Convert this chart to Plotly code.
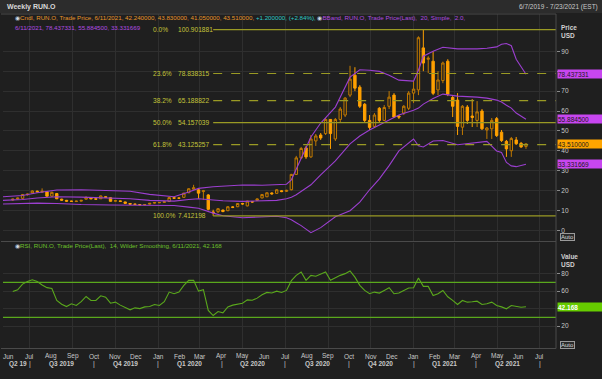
import plotly.graph_objects as go
import pandas as pd

# ---------------- data ----------------
n_weeks = 106
dates = pd.date_range("2019-06-07", periods=n_weeks, freq="7D")

opens = [15.4, 15.9, 16.2, 18.0, 18.9, 19.8, 19.3, 19.5, 17.3, 18.6,
         15.8, 15.2, 14.8, 14.6, 14.8, 15.8, 16.5, 16.0, 16.0, 17.0,
         16.5, 14.8, 14.9, 14.4, 13.6, 13.3, 13.1, 13.0, 13.3, 13.8,
         14.0, 14.2, 14.6, 16.5, 16.3, 16.7, 19.0, 20.8, 20.5, 19.6,
         17.9, 9.4, 9.5, 10.3, 10.0, 11.9, 12.0, 13.6, 12.4, 14.5,
         15.2, 16.4, 17.0, 18.9, 18.7, 20.0, 19.7, 20.5, 28.2, 36.5,
         41.5, 37.0, 45.0, 48.0, 48.7, 55.8, 46.0, 55.8, 58.0, 68.0,
         78.0, 72.0, 63.4, 55.3, 52.3, 61.4, 55.3, 62.4, 68.0, 57.5,
         59.0, 61.4, 69.0, 70.6, 91.7, 86.0, 85.0, 70.6, 75.3, 85.0,
         66.8, 65.5, 51.9, 62.0, 57.5, 55.3, 60.0, 50.5, 51.1, 56.2,
         49.4, 44.8, 40.1, 45.5, 43.8, 42.24]
highs = [16.0, 16.6, 18.4, 18.6, 20.2, 20.1, 21.2, 19.8, 19.6, 18.9,
         16.0, 15.4, 15.0, 15.0, 15.4, 17.2, 16.8, 16.2, 17.6, 17.2,
         16.7, 15.3, 15.0, 14.5, 13.8, 13.5, 13.3, 13.3, 13.9, 14.3,
         14.3, 14.7, 16.9, 16.7, 16.6, 19.0, 21.3, 23.0, 21.0, 20.4,
         18.3, 10.5, 11.3, 10.6, 12.3, 12.2, 13.8, 13.9, 15.0, 14.8,
         16.2, 18.3, 19.2, 19.2, 20.8, 20.3, 20.5, 28.5, 37.5, 42.0,
         42.5, 48.0, 48.5, 49.0, 56.5, 56.0, 56.5, 62.0, 67.0, 82.7,
         82.0, 73.0, 64.0, 58.0, 59.0, 62.0, 63.0, 70.0, 69.0, 58.0,
         63.0, 70.0, 75.0, 97.5, 100.9, 87.5, 90.0, 80.0, 84.8, 86.0,
         67.5, 69.0, 63.0, 63.0, 66.0, 65.0, 61.0, 52.0, 56.5, 57.0,
         50.5, 45.5, 47.0, 47.0, 44.5, 43.83]
lows = [15.0, 15.6, 16.0, 17.6, 18.7, 19.2, 19.0, 17.0, 17.0, 15.8,
        15.0, 14.5, 14.4, 14.4, 14.6, 15.6, 15.8, 15.5, 15.9, 16.5,
        14.6, 14.6, 14.5, 13.5, 13.1, 13.0, 12.8, 12.7, 13.1, 13.6,
        13.8, 14.0, 14.5, 16.0, 15.9, 16.5, 18.8, 20.6, 16.0, 15.5,
        10.2, 7.41, 8.8, 9.2, 9.8, 11.3, 11.8, 13.0, 12.2, 14.0,
        15.0, 16.2, 16.8, 18.0, 18.5, 19.3, 19.4, 20.2, 28.0, 36.0,
        36.0, 36.5, 42.5, 45.5, 48.0, 41.0, 45.0, 54.5, 57.0, 67.0,
        70.0, 61.5, 54.5, 50.5, 51.5, 54.5, 55.0, 61.0, 56.5, 56.0,
        58.0, 60.5, 64.0, 68.0, 80.0, 79.0, 68.0, 68.0, 74.0, 67.5,
        57.0, 48.0, 48.0, 53.5, 52.0, 52.0, 50.5, 46.0, 46.0, 47.0,
        44.5, 37.0, 37.0, 43.0, 41.5, 41.05]
closes = [15.8, 16.3, 18.1, 18.3, 19.9, 19.5, 19.7, 17.3, 19.2, 16.0,
          15.3, 14.8, 14.7, 14.8, 15.2, 16.7, 16.0, 15.8, 17.4, 16.7,
          14.7, 15.0, 14.7, 13.7, 13.3, 13.2, 13.0, 13.1, 13.7, 14.1,
          14.1, 14.5, 16.6, 16.3, 16.3, 18.8, 21.0, 21.5, 18.8, 20.0,
          10.7, 9.0, 11.0, 9.6, 12.0, 11.7, 13.6, 13.4, 14.8, 14.4,
          15.9, 18.1, 19.0, 18.5, 20.5, 19.6, 20.2, 28.2, 36.5, 41.2,
          37.0, 46.0, 47.5, 46.5, 55.8, 48.7, 55.8, 61.0, 66.5, 76.0,
          71.5, 62.4, 55.3, 51.8, 58.0, 55.3, 61.8, 67.0, 57.0, 57.0,
          62.4, 69.0, 71.0, 96.8, 84.1, 86.5, 68.9, 75.6, 84.1, 68.5,
          62.4, 52.3, 62.4, 55.3, 56.8, 59.6, 51.1, 51.5, 55.3, 47.7,
          45.2, 41.0, 46.2, 43.6, 42.0, 43.51]

rsi = [59.5, 61.5, 68, 71, 73, 71, 67, 64, 63, 49.3,
       45, 42.4, 45.5, 43.6, 48, 53.9, 49.3, 49.3, 54.7, 53.1,
       46.2, 47.4, 44, 41, 38.6, 40.9, 40, 42, 42.4, 44.7,
       43.6, 48, 58.9, 57, 58.9, 66.6, 72.3, 72.3, 60, 61.6,
       38, 32.1, 36.7, 35.2, 42, 44, 45.5, 46.2, 50, 49.5,
       52, 55.8, 58.5, 57.8, 60, 58.5, 60.8, 72, 78, 81.9,
       72.3, 78, 77, 79, 81.9, 72.3, 75.5, 78, 80, 83,
       76, 66.6, 60.8, 57, 58.9, 57.8, 60.8, 63.9, 57, 57.8,
       60.8, 63.5, 63.9, 75, 65.4, 65.4, 55, 57, 60.8, 53.5,
       49.5, 44.7, 49.3, 47.4, 47.8, 48.5, 44.7, 45.5, 47.4, 43.6,
       42, 39.8, 43.6, 42.4, 41.5, 42.168]

bb_weeks = [-2, 2, 5, 9, 14, 20, 24, 28, 33, 36,
            38, 41, 43, 47, 51, 54, 56, 57, 58, 59,
            61, 63, 66, 69, 71, 73, 75, 77, 79, 82,
            83, 84, 86, 88, 91, 95, 97, 99, 100, 101,
            102, 103, 104, 105]
bb_upper = [17.0, 17.6, 19.0, 20.4, 20.5, 20.3, 19.8, 18.2, 17.0, 19.4,
            21.2, 22.0, 22.3, 22.9, 22.8, 23.0, 23.3, 25.5, 31.0, 36.7,
            47.0, 54.0, 62.0, 77.0, 80.7, 80.5, 79.9, 78.0, 75.5, 75.0,
            80.5, 87.5, 90.0, 92.0, 91.2, 91.2, 91.5, 92.2, 93.5, 93.9,
            92.8, 86.0, 82.0, 78.437331]
bb_mid = [15.2, 15.6, 16.4, 17.0, 16.8, 16.5, 16.0, 15.2, 14.8, 15.6,
          16.0, 15.4, 15.0, 14.7, 14.8, 15.2, 16.0, 16.8, 18.0, 19.8,
          23.0, 28.0, 35.0, 43.5, 47.5, 50.5, 53.0, 55.3, 58.0, 60.4,
          61.5, 63.5, 66.3, 68.5, 67.5, 67.0, 66.5, 65.5, 64.5, 62.9,
          61.5, 59.0, 57.5, 55.8845]
bb_lower = [13.4, 13.6, 13.8, 13.6, 13.1, 12.9, 12.8, 12.4, 12.6, 11.8,
            11.2, 8.8, 7.5, 6.5, 6.8, 7.2, 6.5, 5.5, 4.0, 2.5,
            -1.0, 1.5, 7.0, 10.0, 14.3, 20.5, 26.0, 32.6, 40.0, 46.0,
            42.6, 42.0, 45.0, 45.2, 43.1, 44.0, 44.8, 40.0, 39.2, 34.2,
            32.5, 32.1, 32.8, 33.331669]

fib_pct = ["0.0%", "23.6%", "38.2%", "50.0%", "61.8%", "100.0%"]
fib_vals = [100.901881, 78.838315, 65.188822, 54.157039, 43.125257, 7.412198]
fib_dash = ["solid", "dash", "dash", "solid", "dash", "solid"]
fib_start_week = 41

price_ticks = [0, 10, 20, 30, 40, 50, 60, 70, 80, 90]
price_ticktext = ["0", "10", "20", "30", "40", "50", "60", "70", "", "90"]
rsi_ticks = [20, 40, 60, 80]
rsi_ticktext = ["20", "", "60", "80"]
rsi_levels = [70, 30]

month_dates = ["2019-06-01", "2019-07-01", "2019-08-01", "2019-09-01", "2019-10-01",
               "2019-11-01", "2019-12-01", "2020-01-01", "2020-02-01", "2020-03-01",
               "2020-04-01", "2020-05-01", "2020-06-01", "2020-07-01", "2020-08-01",
               "2020-09-01", "2020-10-01", "2020-11-01", "2020-12-01", "2021-01-01",
               "2021-02-01", "2021-03-01", "2021-04-01", "2021-05-01", "2021-06-01",
               "2021-07-01"]
month_labels = ["Jun", "Jul", "Aug", "Sep", "Oct", "Nov", "Dec", "Jan", "Feb", "Mar",
                "Apr", "May", "Jun", "Jul", "Aug", "Sep", "Oct", "Nov", "Dec", "Jan",
                "Feb", "Mar", "Apr", "May", "Jun", "Jul"]
quarter_centers = ["2019-06-15", "2019-08-16", "2019-11-15", "2020-02-15", "2020-05-16",
                   "2020-08-16", "2020-11-15", "2021-02-14", "2021-05-16"]
quarter_labels = ["Q2 19", "Q3 2019", "Q4 2019", "Q1 2020", "Q2 2020",
                  "Q3 2020", "Q4 2020", "Q1 2021", "Q2 2021"]
quarter_bounds = ["2019-07-01", "2019-10-01", "2020-01-01", "2020-04-01", "2020-07-01",
                  "2020-10-01", "2021-01-01", "2021-04-01", "2021-07-01"]
grid_dates = ["2019-07-01", "2019-09-01", "2019-11-01", "2020-01-01", "2020-03-01",
              "2020-05-01", "2020-07-01", "2020-09-01", "2020-11-01", "2021-01-01",
              "2021-03-01", "2021-05-01", "2021-07-01"]
x_range = ["2019-05-24", "2021-07-24"]

# ---------------- layout helpers ----------------
W, H = 602, 379
LX, RX, TY, BY = 3, 556, 14, 348


def px_x(px):
    return (px - LX) / (RX - LX)


def px_y(py):
    return (BY - py) / (BY - TY)


TOP_DOM = [px_y(241), 1.0]
BOT_DOM = [0.0, px_y(243)]

BG = "#1f1f1f"
GRID = "#2f2f2f"
TXT = "#c8c8c8"
FONT = "Liberation Sans, Arial, sans-serif"
ORANGE = "#ffa000"
ORANGE_DK = "#c27a00"
PURPLE = "#9b3fcf"
FIB = "#9a9a24"
FIBTXT = "#c4c43a"
GREEN = "#5aa81c"

fig = go.Figure()

fig.add_trace(go.Candlestick(
    x=dates, open=opens, high=highs, low=lows, close=closes,
    increasing=dict(line=dict(color=ORANGE_DK, width=1), fillcolor=BG),
    decreasing=dict(line=dict(color=ORANGE, width=1), fillcolor=ORANGE),
    whiskerwidth=0, xaxis="x", yaxis="y", showlegend=False, hoverinfo="skip"))

bb_dates = [dates[0] + pd.Timedelta(weeks=w) for w in bb_weeks]
for arr in (bb_upper, bb_mid, bb_lower):
    fig.add_trace(go.Scatter(x=bb_dates, y=arr, mode="lines",
                             line=dict(color=PURPLE, width=1.1),
                             xaxis="x", yaxis="y", showlegend=False, hoverinfo="skip"))

fig.add_trace(go.Scatter(x=dates, y=rsi, mode="lines", line=dict(color=GREEN, width=1.1),
                         xaxis="x2", yaxis="y2", showlegend=False, hoverinfo="skip"))

shapes = []
annos = []
fib_x0 = dates[fib_start_week]
for pct, val, dash in zip(fib_pct, fib_vals, fib_dash):
    shapes.append(dict(type="line", xref="x", yref="y", x0=fib_x0, x1=x_range[1],
                       y0=val, y1=val, line=dict(color=FIB, width=1.2, dash=dash)))
    annos.append(dict(xref="paper", yref="y", x=px_x(151), y=val, xanchor="left",
                      yanchor="middle", text=pct, showarrow=False,
                      font=dict(size=6.6, color=FIBTXT, family=FONT)))
    annos.append(dict(xref="paper", yref="y", x=px_x(176), y=val, xanchor="left",
                      yanchor="middle", text="%.6f" % val, showarrow=False,
                      font=dict(size=6.6, color=FIBTXT, family=FONT)))

for lv in rsi_levels:
    shapes.append(dict(type="line", xref="paper", yref="y2", x0=0, x1=1, y0=lv, y1=lv,
                       line=dict(color=GREEN, width=1.1)))

# header bar and frame lines
shapes.append(dict(type="rect", xref="paper", yref="paper", x0=px_x(0), x1=px_x(W),
                   y0=px_y(13), y1=px_y(0), fillcolor="#2c2c2c", line=dict(width=0),
                   layer="below"))
for yy in (14, 241.5, 348.5):
    shapes.append(dict(type="line", xref="paper", yref="paper", x0=px_x(1), x1=px_x(RX),
                       y0=px_y(yy), y1=px_y(yy), line=dict(color="#4a4a4a", width=1)))
shapes.append(dict(type="line", xref="paper", yref="paper", x0=1, x1=1,
                   y0=px_y(348.5), y1=px_y(14), line=dict(color="#4a4a4a", width=1)))

# month / quarter labels
for d, lab in zip(month_dates, month_labels):
    annos.append(dict(xref="x2", yref="paper", x=d, y=0, yshift=-8, yanchor="middle",
                      text=lab, showarrow=False, font=dict(size=6.5, color=TXT, family=FONT)))
for d, lab in zip(quarter_centers, quarter_labels):
    annos.append(dict(xref="x2", yref="paper", x=d, y=0, yshift=-16, yanchor="middle",
                      text="<b>%s</b>" % lab, showarrow=False,
                      font=dict(size=6.5, color=TXT, family=FONT)))
for d in quarter_bounds:
    annos.append(dict(xref="x2", yref="paper", x=d, y=0, yshift=-16, yanchor="middle",
                      text="|", showarrow=False, font=dict(size=7, color=TXT, family=FONT)))

# headers
annos.append(dict(xref="paper", yref="paper", x=px_x(5), y=px_y(6.5), xanchor="left",
                  yanchor="middle", text="<b>Weekly RUN.O</b>", showarrow=False,
                  font=dict(size=7, color="#d8d8d8", family=FONT)))
annos.append(dict(xref="paper", yref="paper", x=px_x(600), y=px_y(6.5), xanchor="right",
                  yanchor="middle", text="6/7/2019 - 7/23/2021 (EST)", showarrow=False,
                  font=dict(size=6.5, color=TXT, family=FONT)))

legend1 = ('<span style="color:#e8962a">Cndl, RUN.O, Trade Price, 6/11/2021, 42.240000, '
           '43.830000, 41.050000, 43.510000, </span>'
           '<span style="color:#2ec8c8">+1.200000, (+2.84%), </span>'
           '<span style="color:#d0d8e0">◉</span>'
           '<span style="color:#b04be0">BBand, RUN.O, Trade Price(Last),  20, Simple,  2.0,</span>')
annos.append(dict(xref="paper", yref="paper", x=px_x(13), y=px_y(17.5), xanchor="left",
                  yanchor="middle", text='<span style="color:#d0d8e0">◉</span>' + legend1,
                  showarrow=False, font=dict(size=6.2, family=FONT)))
annos.append(dict(xref="paper", yref="paper", x=px_x(13), y=px_y(27), xanchor="left",
                  yanchor="middle", text="6/11/2021, 78.437331, 55.884500, 33.331669",
                  showarrow=False, font=dict(size=6.2, color="#b04be0", family=FONT)))
annos.append(dict(xref="paper", yref="paper", x=px_x(13), y=px_y(246), xanchor="left",
                  yanchor="middle",
                  text='<span style="color:#d0d8e0">◉</span>RSI, RUN.O, Trade Price(Last),  14, '
                       'Wilder Smoothing, 6/11/2021, 42.168',
                  showarrow=False, font=dict(size=6.2, color="#6cc02a", family=FONT)))

# axis titles
for txt, yy in (("Price", 27), ("USD", 36), ("Value", 256), ("USD", 264.5)):
    annos.append(dict(xref="paper", yref="paper", x=1, xshift=3, y=px_y(yy), xanchor="left",
                      yanchor="middle", text="<b>%s</b>" % txt, showarrow=False,
                      font=dict(size=6.5, color="#d0d0d0", family=FONT)))

# last value boxes
boxes = [(bb_upper[-1], "y", "#c846f0", "#1a1a1a", "%.6f" % bb_upper[-1]),
         (bb_mid[-1], "y", "#c846f0", "#1a1a1a", "%.6f" % bb_mid[-1]),
         (closes[-1], "y", "#ffa500", "#1a1a1a", "%.6f" % closes[-1]),
         (bb_lower[-1], "y", "#c846f0", "#1a1a1a", "%.6f" % bb_lower[-1]),
         (rsi[-1], "y2", "#66cc00", "#ffffff", "<b>%.3f</b>" % rsi[-1])]
for val, yr, bg, fg, txt in boxes:
    annos.append(dict(xref="paper", yref=yr, x=1, xshift=1, y=val, xanchor="left",
                      yanchor="middle", text=txt, showarrow=False, bgcolor=bg,
                      width=44, height=8, align="left", borderpad=0,
                      font=dict(size=6.5, color=fg, family=FONT)))

# Auto buttons
for yy in (236.5, 345):
    annos.append(dict(xref="paper", yref="paper", x=1, xshift=4, y=px_y(yy), xanchor="left",
                      yanchor="middle", text="Auto", showarrow=False, bgcolor="#2a2a2a",
                      bordercolor="#9a9a9a", borderwidth=1, borderpad=0,
                      font=dict(size=6, color="#d8d8d8", family=FONT)))

axis_common = dict(showgrid=True, gridcolor=GRID, gridwidth=1, zeroline=False,
                   showline=False)
fig.update_layout(
    width=W, height=H,
    margin=dict(l=LX, r=W - RX, t=TY, b=H - BY, pad=0),
    paper_bgcolor=BG, plot_bgcolor=BG,
    showlegend=False,
    shapes=shapes, annotations=annos,
    xaxis=dict(domain=[0, 1], range=x_range, anchor="y", type="date",
               tickvals=grid_dates, showticklabels=False, ticks="",
               rangeslider=dict(visible=False), **axis_common),
    xaxis2=dict(domain=[0, 1], range=x_range, anchor="y2", type="date", matches="x",
                tickvals=grid_dates, showticklabels=False, ticks="", **axis_common),
    yaxis=dict(domain=TOP_DOM, range=[-5.2, 108.7], side="right", anchor="x",
               tickvals=price_ticks, ticktext=price_ticktext, ticks="outside", ticklen=3,
               tickcolor="#8a8a8a",
               tickfont=dict(size=6.5, color=TXT, family=FONT), **axis_common),
    yaxis2=dict(domain=BOT_DOM, range=[-5, 115], side="right", anchor="x2",
                tickvals=rsi_ticks, ticktext=rsi_ticktext, ticks="outside", ticklen=3,
                tickcolor="#8a8a8a",
                tickfont=dict(size=6.5, color=TXT, family=FONT), **axis_common),
)

fig.write_html("out.html", config={"displayModeBar": False, "staticPlot": True},
               post_script="document.body.style.margin='0px';"
                           "document.body.style.overflow='hidden';")
